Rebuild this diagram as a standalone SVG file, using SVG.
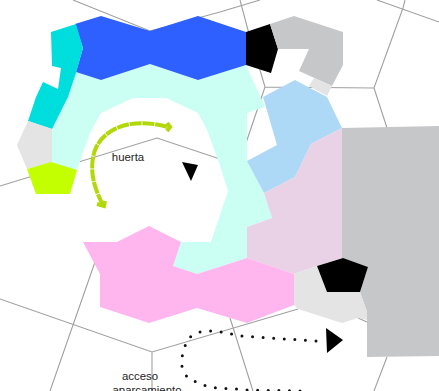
<svg xmlns="http://www.w3.org/2000/svg" width="439" height="391" viewBox="0 0 439 391">
<style>
.l{fill:none;stroke:#a0a0a0;stroke-width:1.1}
.t{font-family:"Liberation Sans",Arial,sans-serif;font-size:11.4px;fill:#222;text-anchor:middle}
.g{fill:none;stroke:#b2d80a;stroke-width:4}
</style>
<rect width="439" height="391" fill="#fff"/>
<g id="connectors">
<path class="l" d="M73,0L150,31L220,12L260,0M240,0L248,30L265,87L374,88L403,8L405,0M377,0L439,22M374,88L387,128M265,87L247,140L212,242M0,186L157,138L247,168M0,299L152,352L298,309M358,318L367,322M152,352V391M95,262L50,391M230,318L253,391M387,357L374,391"/>
</g>
<g id="shapes">
<polygon id="pale" fill="#ccfff3" points="76,72 101,80 150,64 198,80 246,65 265,107 247,113 247,160 264,193 272,218 247,227 247,258 197,274 173,266 181,242 211,242 228,191 218,160 207,130 198,113 166,98 133,98 101,113 90,133 77,170 51,162 52,129 68,97"/>
<polygon id="blue" fill="#2e5fff" points="75,24 101,16 150,31 198,16 246,32 246,65 198,80 150,64 101,80 76,72 83,48"/>
<polygon id="cyan" fill="#00dddd" points="51,32 76,24 83,48 76,73 68,97 52,129 28,121 36,97 43,82 58,89 61,68 52,66"/>
<polygon id="grey-left" fill="#e4e4e4" points="28,121 52,129 52,162 27,169 17,145"/>
<polygon id="lime" fill="#c4ff00" points="27,169 51,162 77,170 70,194 36,194"/>
<polygon id="black-top" fill="#000" points="246,32 270,24 278,49 271,73 246,65"/>
<polygon id="grey-top" fill="#c6c7c9" points="270,24 294,16 343,32 343,65 332,86 299,71 309,49 278,49"/>
<polygon id="grey-small" fill="#e4e4e4" points="314,78 332,86 327,96 309,86"/>
<polygon id="lightblue" fill="#add8f6" points="263,97 295,80 327,97 342,128 311,144 295,177 264,193 247,161 277,145"/>
<polygon id="lilac" fill="#e9d1e6" points="342,128 342,258 317,266 294,274 247,258 247,227 272,218 264,193 295,177 311,144"/>
<polygon id="grey-right" fill="#c6c7c9" points="342,128 439,126 439,356 367,357 367,312 360,292 368,267 342,258"/>
<polygon id="grey-bottom" fill="#e4e4e4" points="294,274 317,266 327,292 360,292 367,312 367,320 358,318 342,323 298,309 294,305"/>
<polygon id="black-bottom" fill="#000" points="317,266 343,258 368,267 360,292 327,292"/>
<polygon id="pink" fill="#ffb6ee" points="83,242 117,242 149,226 181,242 173,266 197,274 247,258 294,274 294,305 247,323 197,308 149,323 100,307 100,274"/>
</g>
<g id="arrows">
<path class="g" stroke-dasharray="12 0.8" d="M103,205C95,190 88,170 95,150C103,130 128,116 168,127"/>
<path class="g" stroke-width="2.5" d="M167,123L170,127L167,131M105,201L104,206L97,204"/>
<polygon fill="#000" points="182,162 198,165 191,181"/>
<polygon fill="#000" points="326,328 343,340 327,353"/>
<path fill="none" stroke="#111" stroke-width="3" stroke-linecap="round" stroke-dasharray="0 10.6" d="M316,341L241,336L221,332L210,331L199,332L190,337L185,346L182,357L182,367L187,377L196,382L206,386L217,388L238,389L248,390L301,391"/>
</g>
<g id="labels">
<text class="t" x="128" y="160.5">huerta</text>
<text class="t" x="140" y="380">acceso</text>
<text class="t" x="147" y="393.5">aparcamiento</text>
</g>
</svg>
